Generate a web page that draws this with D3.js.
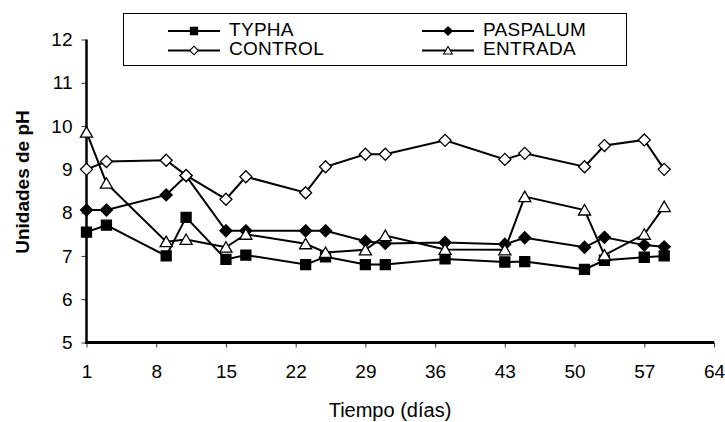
<!DOCTYPE html>
<html>
<head>
<meta charset="utf-8">
<script src="https://cdn.jsdelivr.net/npm/d3@7"></script>
<style>
  body { margin: 0; background: #fff; }
  svg { display: block; font-family: "Liberation Sans", Arial, sans-serif; }
</style>
</head>
<body>
<svg id="chart" width="725" height="422"></svg>
<script>
// sampling days and pH readings per series
const days = [1, 3, 9, 11, 15, 17, 23, 25, 29, 31, 37, 43, 45, 51, 53, 57, 59];
const typha    = [7.55, 7.71, 7.00, 7.89, 6.92, 7.02, 6.80, 6.98, 6.80, 6.80, 6.93, 6.86, 6.87, 6.69, 6.90, 6.97, 7.00];
const paspalum = [8.06, 8.06, 8.41, 8.85, 7.58, 7.58, 7.58, 7.58, 7.34, 7.29, 7.31, 7.27, 7.42, 7.20, 7.43, 7.25, 7.21];
const control  = [9.00, 9.18, 9.21, 8.86, 8.31, 8.83, 8.46, 9.06, 9.35, 9.35, 9.67, 9.23, 9.37, 9.06, 9.55, 9.68, 9.00];
const entrada  = [9.86, 8.68, 7.33, 7.38, 7.20, 7.50, 7.28, 7.08, 7.14, 7.47, 7.15, 7.14, 8.37, 8.06, 7.02, 7.50, 8.14];

const xTicks = [1, 8, 15, 22, 29, 36, 43, 50, 57, 64];
const yTicks = [5, 6, 7, 8, 9, 10, 11, 12];

const series = [
  {name: "TYPHA", values: typha, shape: "square", fill: "#000"},
  {name: "PASPALUM", values: paspalum, shape: "diamond", fill: "#000"},
  {name: "CONTROL", values: control, shape: "diamond", fill: "#fff"},
  {name: "ENTRADA", values: entrada, shape: "triangle", fill: "#fff"}
];

const svg = d3.select("#chart");
const x = d3.scaleLinear().domain([1, 64]).range([86.5, 714]);
const y = d3.scaleLinear().domain([5, 12]).range([342.5, 39.5]);

// marker path around (0,0), r = half size
function markerPath(shape, r) {
  if (shape === "square") return `M${-r},${-r}H${r}V${r}H${-r}Z`;
  if (shape === "diamond") return `M0,${-r}L${r},0L0,${r}L${-r},0Z`;
  return `M0,${-r}L${r * 1.1},${r * 0.9}H${-r * 1.1}Z`;
}
function markerSize(shape) {
  return shape === "square" ? 5 : shape === "diamond" ? 6 : 5.5;
}

// axes
const yAxis = svg.append("g")
  .attr("transform", `translate(${x.range()[0]},0)`)
  .call(d3.axisLeft(y).tickValues(yTicks).tickFormat(d3.format("d")).tickSize(5).tickPadding(9));
const xAxis = svg.append("g")
  .attr("transform", `translate(0,${y.range()[0]})`)
  .call(d3.axisBottom(x).tickValues(xTicks).tickSize(5).tickPadding(17));

[yAxis, xAxis].forEach(g => {
  g.select(".domain").remove();
  g.selectAll(".tick line").attr("stroke", "#333").attr("stroke-width", 1);
  g.selectAll(".tick text").attr("fill", "#000")
    .style("font-family", '"Liberation Sans", Arial, sans-serif').style("font-size", "19px");
});

svg.append("line")
  .attr("x1", x.range()[0]).attr("x2", x.range()[0])
  .attr("y1", y.range()[1]).attr("y2", y.range()[0] + 1.5)
  .attr("stroke", "#000").attr("stroke-width", 2.5);
svg.append("line")
  .attr("x1", x.range()[0] - 1.2).attr("x2", x.range()[1])
  .attr("y1", y.range()[0]).attr("y2", y.range()[0])
  .attr("stroke", "#000").attr("stroke-width", 3);

// axis titles
svg.append("text")
  .attr("x", 390).attr("y", 417)
  .attr("text-anchor", "middle")
  .style("font-size", "20px")
  .text("Tiempo (días)");
svg.append("text")
  .attr("transform", "translate(29,182) rotate(-90)")
  .attr("text-anchor", "middle")
  .style("font-size", "19px").style("font-weight", "bold")
  .text("Unidades de pH");

// series
const line = d3.line().x((d, i) => x(days[i])).y(d => y(d));
series.forEach(s => {
  const g = svg.append("g");
  g.append("path")
    .attr("d", line(s.values))
    .attr("fill", "none").attr("stroke", "#000").attr("stroke-width", 2);
  g.selectAll("path.mk").data(s.values).enter().append("path")
    .attr("class", "mk")
    .attr("transform", (d, i) => `translate(${x(days[i])},${y(d)})`)
    .attr("d", markerPath(s.shape, markerSize(s.shape)))
    .attr("fill", s.fill).attr("stroke", "#000").attr("stroke-width", 1.3);
});

// legend
const legend = svg.append("g");
legend.append("rect")
  .attr("x", 123.5).attr("y", 13.5).attr("width", 503).attr("height", 52)
  .attr("fill", "#fff").attr("stroke", "#000").attr("stroke-width", 1);
const legCols = [168, 422];
const legRows = [31, 50.5];
series.forEach((s, i) => {
  const lx = legCols[i % 2], ly = legRows[Math.floor(i / 2)];
  const g = legend.append("g");
  g.append("line").attr("x1", lx).attr("x2", lx + 52).attr("y1", ly).attr("y2", ly)
    .attr("stroke", "#000").attr("stroke-width", 2);
  g.append("path")
    .attr("transform", `translate(${lx + 26},${ly})`)
    .attr("d", markerPath(s.shape, markerSize(s.shape) * 0.72))
    .attr("fill", s.fill).attr("stroke", "#000").attr("stroke-width", 1.1);
  g.append("text").attr("x", lx + 61).attr("y", ly + 4.5)
    .style("font-size", "19px").style("letter-spacing", "0.3px").text(s.name);
});
</script>
</body>
</html>
